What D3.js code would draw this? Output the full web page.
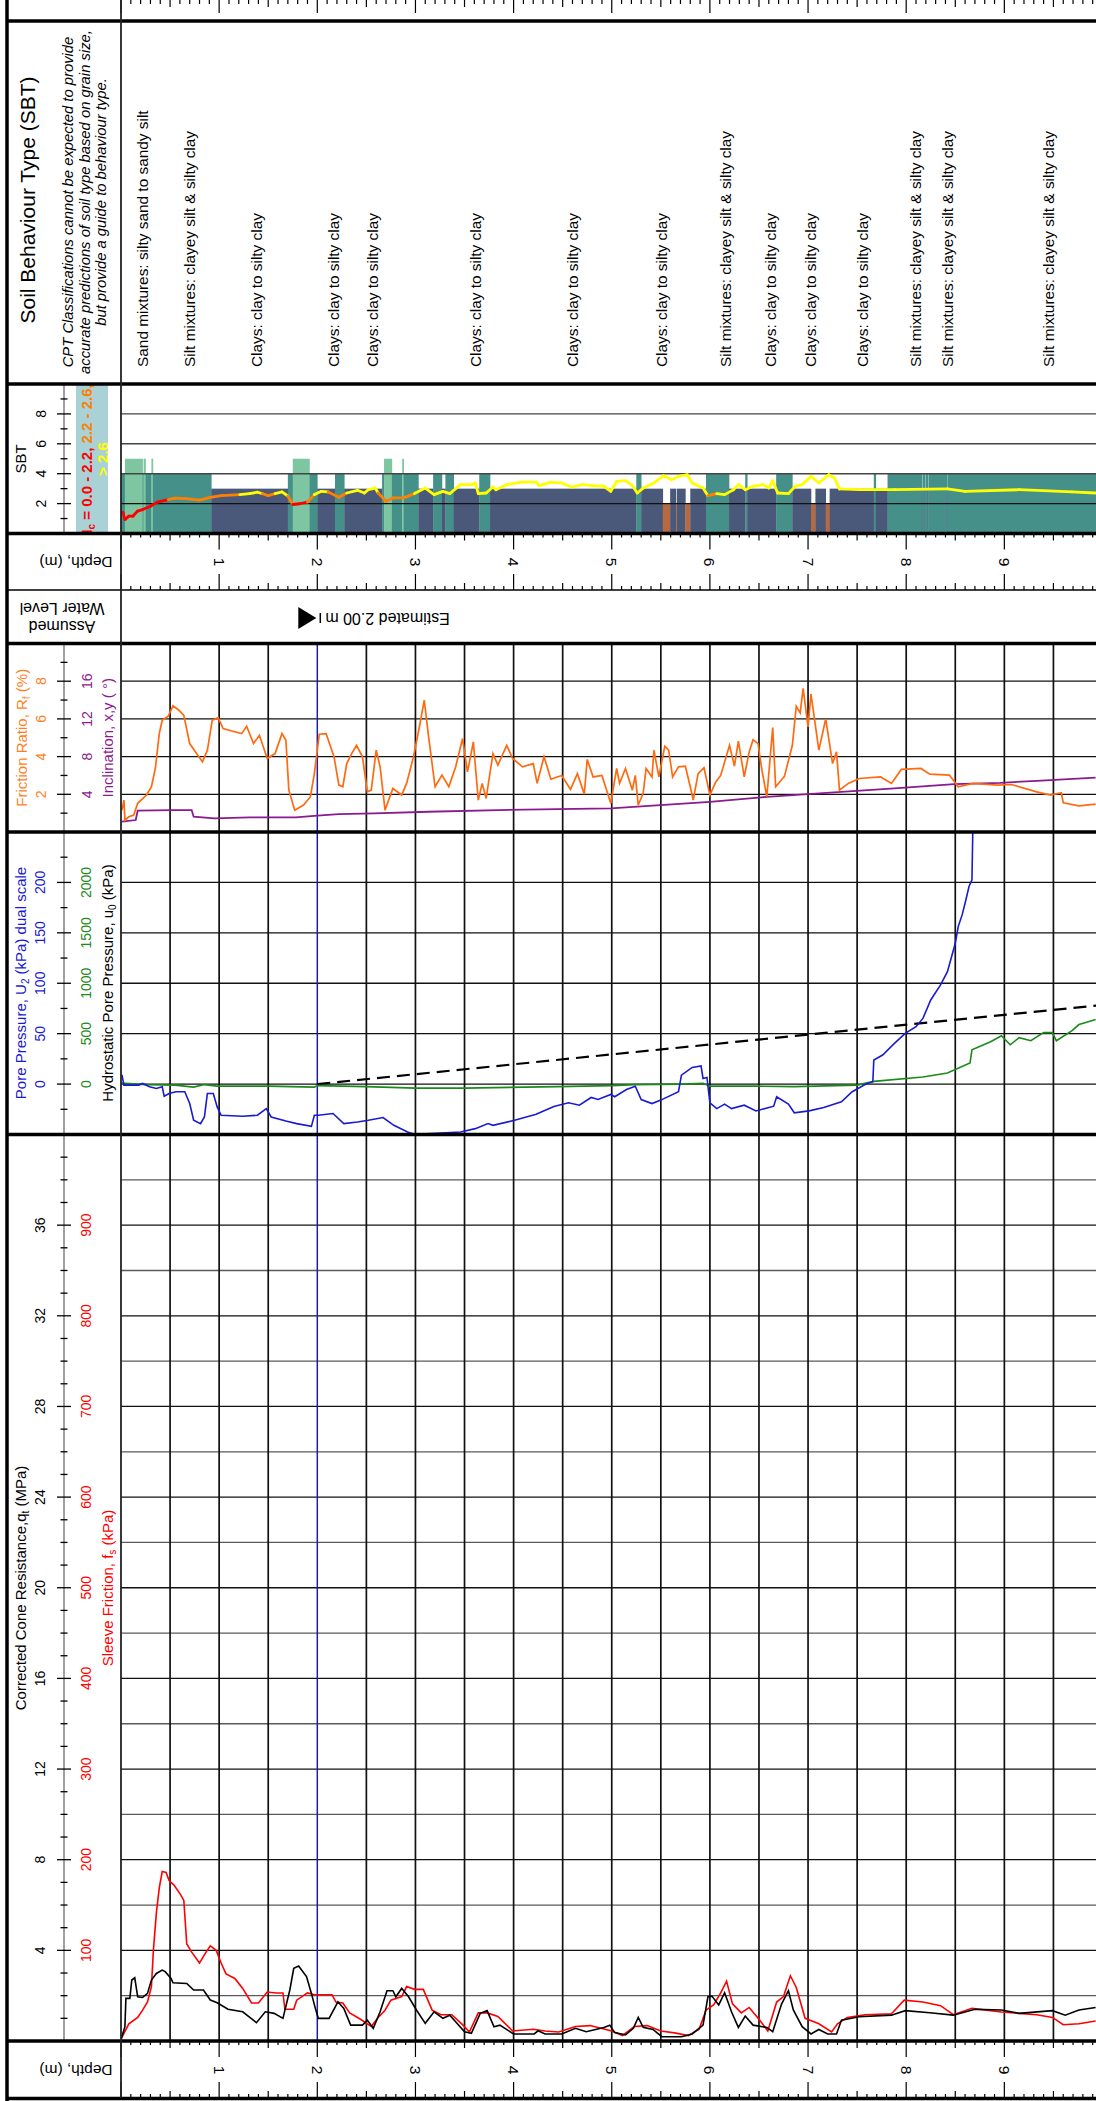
<!DOCTYPE html>
<html>
<head>
<meta charset="utf-8">
<script src="https://cdn.jsdelivr.net/npm/d3@7"></script>
<style>
body { margin: 0; background: #fff; }
svg text { font-family: "Liberation Sans", Arial, sans-serif; }
</style>
</head>
<body>
<div id="chart"></div>
<script>
// ---- data (depth in m, value) ----
var waterDepth = 2.0;

var soilLabels = [
  [0.22, "Sand mixtures: silty sand to sandy silt"],
  [0.70, "Silt mixtures: clayey silt & silty clay"],
  [1.38, "Clays: clay to silty clay"],
  [2.16, "Clays: clay to silty clay"],
  [2.56, "Clays: clay to silty clay"],
  [3.61, "Clays: clay to silty clay"],
  [4.60, "Clays: clay to silty clay"],
  [5.51, "Clays: clay to silty clay"],
  [6.16, "Silt mixtures: clayey silt & silty clay"],
  [6.62, "Clays: clay to silty clay"],
  [7.03, "Clays: clay to silty clay"],
  [7.55, "Clays: clay to silty clay"],
  [8.09, "Silt mixtures: clayey silt & silty clay"],
  [8.42, "Silt mixtures: clayey silt & silty clay"],
  [9.45, "Silt mixtures: clayey silt & silty clay"]
];

// [from, to, zone]
var sbtZones = [
  [0,0.04,4],[0.04,0.22,5],[0.22,0.23,4],[0.23,0.25,5],[0.25,0.31,4],[0.31,0.325,5],[0.325,0.92,4],
  [0.92,1.70,3],[1.70,1.75,4],[1.75,1.92,5],[1.92,2.0,4],[2.0,2.18,3],[2.18,2.275,4],[2.275,2.66,3],
  [2.66,2.68,4],[2.68,2.76,5],[2.76,2.865,4],[2.865,2.88,5],[2.88,3.03,4],[3.03,3.18,3],[3.18,3.27,4],
  [3.27,3.305,3],[3.305,3.39,4],[3.39,3.65,3],[3.65,3.76,4],[3.76,5.25,3],[5.25,5.30,4],[5.30,5.52,3],
  [5.52,5.595,2],[5.595,5.655,3],[5.655,5.665,2],[5.665,5.75,3],[5.75,5.80,2],[5.80,5.96,3],[5.96,6.195,4],
  [6.195,6.36,3],[6.36,6.38,4],[6.38,6.675,3],[6.675,6.84,4],[6.84,7.03,3],[7.03,7.075,2],[7.075,7.18,3],
  [7.18,7.22,2],[7.22,7.67,3],[7.67,7.69,4],[7.69,7.81,3],[7.81,8.16,4],[8.16,8.166,3],[8.166,8.19,4],
  [8.19,8.196,3],[8.196,8.22,4],[8.22,8.226,3],[8.226,8.42,4],[8.42,8.426,3],[8.426,10,4]
];

var icIndex = [
  [0,1.38],[0.02,1.41],[0.04,0.93],[0.08,1.16],[0.12,1.16],[0.17,1.5],[0.22,1.6],[0.30,1.82],[0.37,2.1],
  [0.48,2.27],[0.55,2.36],[0.66,2.33],[0.80,2.23],[0.91,2.42],[1.02,2.53],[1.21,2.6],[1.31,2.67],[1.39,2.76],
  [1.44,2.67],[1.50,2.53],[1.57,2.67],[1.64,2.78],[1.70,2.51],[1.75,1.94],[1.82,1.99],[1.90,2.1],[1.97,2.6],
  [2.04,2.82],[2.11,2.78],[2.22,2.42],[2.30,2.71],[2.41,2.89],[2.48,2.71],[2.52,2.93],[2.59,3.04],[2.62,2.71],
  [2.70,2.16],[2.77,2.38],[2.88,2.38],[2.99,2.67],[3.10,3.04],[3.19,2.6],[3.28,2.82],[3.35,2.67],[3.46,3.27],
  [3.57,3.27],[3.61,3.38],[3.64,2.67],[3.72,2.71],[3.79,3.11],[3.82,2.93],[3.93,3.27],[4.08,3.44],[4.23,3.44],
  [4.26,3.2],[4.37,3.42],[4.49,3.38],[4.59,3.11],[4.70,3.27],[4.81,3.2],[4.92,3.16],[4.99,2.82],[5.05,3.49],
  [5.14,3.53],[5.21,3.2],[5.26,2.71],[5.32,3.04],[5.43,3.38],[5.53,3.87],[5.61,3.6],[5.68,3.82],[5.77,3.93],
  [5.82,3.38],[5.93,3.04],[5.98,2.53],[6.07,2.67],[6.15,2.6],[6.24,2.93],[6.29,3.27],[6.36,2.93],[6.44,3.16],
  [6.54,3.27],[6.60,3.04],[6.64,3.53],[6.69,2.71],[6.80,2.67],[6.87,3.16],[6.94,3.27],[7.03,3.82],[7.11,3.38],
  [7.21,3.93],[7.27,3.71],[7.32,2.98],[7.52,2.93],[7.88,2.93],[8.42,2.98],[8.60,2.82],[9.15,2.93],[9.69,2.78],
  [9.93,2.71]
];

var frictionRatio = [
  [0.01,1.16],[0.03,1.69],[0.04,0.63],[0.08,0.81],[0.13,0.9],[0.17,1.52],[0.26,1.96],[0.31,2.4],[0.35,3.37],
  [0.39,5.22],[0.42,5.93],[0.48,6.14],[0.53,6.69],[0.59,6.46],[0.64,6.19],[0.70,4.69],[0.77,4.16],[0.83,3.72],
  [0.88,4.34],[0.93,5.93],[0.99,6.07],[1.04,5.49],[1.13,5.36],[1.23,5.22],[1.28,5.61],[1.35,4.69],[1.41,5.13],
  [1.49,3.9],[1.57,4.16],[1.64,5.22],[1.68,4.87],[1.71,2.22],[1.77,1.16],[1.86,1.43],[1.93,1.87],[1.97,3.1],
  [2.00,4.34],[2.02,5.19],[2.09,5.22],[2.17,3.99],[2.22,2.49],[2.26,2.4],[2.30,3.63],[2.35,4.16],[2.40,4.6],
  [2.46,3.99],[2.51,2.13],[2.55,2.22],[2.60,4.34],[2.64,3.46],[2.69,1.16],[2.77,2.31],[2.86,1.96],[2.91,2.58],
  [2.98,3.99],[3.04,5.57],[3.09,6.99],[3.13,5.22],[3.20,2.4],[3.27,3.02],[3.34,2.4],[3.41,3.46],[3.48,4.96],
  [3.53,3.19],[3.59,4.78],[3.64,1.69],[3.68,2.58],[3.72,1.78],[3.79,4.16],[3.84,3.55],[3.93,4.6],[3.99,3.9],
  [4.09,3.46],[4.20,3.63],[4.24,2.58],[4.31,4.0],[4.38,2.8],[4.49,3.0],[4.58,2.26],[4.65,3.10],[4.72,2.01],
  [4.75,3.85],[4.81,2.92],[4.90,3.0],[4.99,1.52],[5.05,3.37],[5.08,2.58],[5.14,3.37],[5.21,2.22],[5.24,3.0],
  [5.27,1.43],[5.32,2.05],[5.35,3.37],[5.41,2.92],[5.43,4.34],[5.48,2.92],[5.54,4.55],[5.58,4.34],[5.62,2.92],
  [5.68,3.46],[5.75,3.49],[5.80,2.4],[5.83,1.69],[5.88,3.1],[5.94,3.41],[6.00,1.96],[6.06,2.66],[6.11,3.0],
  [6.20,4.6],[6.25,3.49],[6.29,4.82],[6.35,2.92],[6.40,4.25],[6.44,4.9],[6.49,4.69],[6.53,3.28],[6.58,1.87],
  [6.64,5.54],[6.67,2.4],[6.76,2.96],[6.84,4.6],[6.88,6.67],[6.92,6.32],[6.95,7.62],[7.00,5.57],[7.03,7.32],
  [7.11,4.34],[7.18,6.0],[7.25,3.63],[7.29,4.25],[7.32,2.22],[7.41,2.58],[7.52,2.84],[7.74,2.92],[7.85,2.58],
  [7.95,3.32],[8.15,3.37],[8.24,3.07],[8.44,3.02],[8.53,2.4],[8.68,2.58],[8.93,2.49],[9.07,2.52],[9.33,2.13],
  [9.47,1.96],[9.58,2.08],[9.60,1.55],[9.76,1.39],[9.93,1.48]
];

var inclination = [
  [0.01,1.09],[0.15,1.27],[0.17,2.26],[0.52,2.33],[0.72,2.33],[0.74,1.62],[0.95,1.45],[1.31,1.55],[1.78,1.55],
  [2.00,1.73],[2.22,1.9],[2.58,1.97],[3.13,2.15],[3.85,2.33],[4.45,2.43],[4.99,2.5],[6.00,3.2],[6.58,3.73],
  [7.34,4.26],[7.88,4.62],[8.49,5.08],[8.96,5.22],[9.33,5.43],[9.93,5.78]
];

var porePressure = [
  [0.01,9.2],[0.03,-1],[0.18,-1],[0.22,0.6],[0.29,-2.7],[0.36,-4.4],[0.42,-2.7],[0.44,-12],[0.49,-9.3],
  [0.56,-7.6],[0.65,-7.6],[0.70,-19.3],[0.74,-35.9],[0.81,-39.2],[0.85,-32.6],[0.88,-9.3],[0.94,-9.3],
  [0.98,-22.6],[1.02,-30.9],[1.24,-31.9],[1.39,-30.9],[1.48,-24.3],[1.53,-32.6],[1.68,-36.6],[1.79,-39.2],
  [1.94,-41.9],[1.97,-30.9],[2.01,-30.9],[2.16,-29.2],[2.27,-39.2],[2.41,-37.6],[2.52,-35.9],[2.67,-33.2],
  [2.78,-40.9],[2.92,-47.5],[3.00,-49.9],[3.46,-47.5],[3.61,-44.2],[3.74,-39.2],[3.79,-40.9],[4.01,-35.9],
  [4.23,-29.9],[4.41,-22.2],[4.56,-18.6],[4.67,-20.9],[4.79,-13.3],[4.86,-15.3],[4.99,-10.3],[5.03,-12.6],
  [5.15,-5.4],[5.24,-2.1],[5.30,-15.3],[5.41,-19.3],[5.50,-15.9],[5.68,-7.6],[5.71,8.9],[5.82,16.5],
  [5.91,17.9],[5.93,5.6],[5.97,6.6],[6.00,-18.6],[6.07,-24.3],[6.15,-19.9],[6.22,-24.3],[6.35,-20.9],
  [6.47,-26.6],[6.65,-21.9],[6.68,-12.6],[6.80,-19.9],[6.86,-28.5],[7.01,-26.6],[7.16,-23.3],[7.34,-17.6],
  [7.45,-7.6],[7.59,0],[7.66,2.3],[7.67,23.8],[7.76,28.8],[7.88,40.3],[7.99,50.3],[8.10,56.9],[8.17,65.1],
  [8.25,83.4],[8.35,98.3],[8.42,111.5],[8.50,139.6],[8.53,156.2],[8.57,167.8],[8.60,179.4],[8.64,195.9],
  [8.67,202.5],[8.68,260]
];

var hydroPressure = [
  [0.0,10],[0.26,-5],[0.55,-10],[0.74,-30],[0.85,-5],[0.98,-20],[1.5,-20],[1.97,-30],[2.0,-15],[2.5,-25],
  [3.0,-40],[3.5,-40],[4.45,-25],[5.0,-15],[5.24,-5],[5.71,0],[5.93,7],[6.0,-20],[6.47,-20],[6.86,-25],
  [7.5,-10],[7.67,27],[8.17,70],[8.42,110],[8.65,210],[8.67,340],[8.86,420],[8.97,480],[9.06,390],[9.15,460],
  [9.27,430],[9.40,510],[9.49,510],[9.53,430],[9.69,530],[9.76,590],[9.83,610],[9.93,640]
];

var coneResistance = [
  [0.0,0.07],[0.04,0.63],[0.05,1.88],[0.09,1.88],[0.11,2.69],[0.14,2.79],[0.17,1.95],[0.22,1.92],[0.27,2.1],
  [0.31,2.69],[0.36,2.98],[0.42,3.13],[0.45,3.06],[0.51,2.76],[0.53,2.57],[0.67,2.54],[0.74,2.25],[0.84,2.25],
  [0.91,1.81],[0.98,1.69],[1.09,1.4],[1.24,1.29],[1.38,0.81],[1.47,1.29],[1.56,1.22],[1.65,1.0],[1.72,2.25],
  [1.76,3.21],[1.81,3.31],[1.89,2.84],[1.94,2.1],[1.98,1.44],[2.01,1.0],[2.12,1.0],[2.21,1.73],[2.27,1.44],
  [2.34,0.70],[2.46,0.70],[2.51,0.92],[2.57,0.56],[2.64,1.29],[2.71,2.22],[2.77,2.22],[2.80,1.95],[2.86,2.32],
  [2.93,1.95],[3.01,1.37],[3.10,0.78],[3.19,1.29],[3.28,1.0],[3.35,1.14],[3.50,0.41],[3.57,0.34],[3.66,1.22],
  [3.73,1.34],[3.80,0.63],[3.86,0.70],[4.00,0.31],[4.21,0.31],[4.25,0.45],[4.32,0.31],[4.49,0.31],[4.63,0.56],
  [4.74,0.41],[4.92,0.6],[4.98,0.70],[5.03,0.37],[5.14,0.27],[5.22,0.56],[5.27,1.04],[5.32,0.6],[5.42,0.51],
  [5.51,0.19],[5.71,0.19],[5.82,0.31],[5.93,0.7],[5.98,1.95],[6.02,1.98],[6.09,1.59],[6.15,2.13],[6.22,1.29],
  [6.29,0.6],[6.36,1.1],[6.44,0.7],[6.58,0.6],[6.64,0.41],[6.73,1.63],[6.80,2.22],[6.85,1.37],[6.94,0.63],
  [7.03,0.31],[7.11,0.51],[7.20,0.31],[7.29,0.31],[7.34,0.92],[7.52,1.07],[7.85,1.14],[7.99,1.34],[8.24,1.25],
  [8.48,1.14],[8.70,1.4],[8.97,1.37],[9.15,1.22],[9.49,1.34],[9.62,1.14],[9.76,1.37],[9.93,1.48]
];

var sleeveFriction = [
  [0.0,2],[0.08,19],[0.17,26],[0.22,34],[0.27,43],[0.31,60],[0.33,100],[0.36,141],[0.39,169],[0.42,187],
  [0.46,186],[0.49,177],[0.54,172],[0.61,161],[0.64,155],[0.67,107],[0.72,98],[0.80,86],[0.86,97],[0.91,105],
  [0.97,100],[1.02,86],[1.07,74],[1.16,69],[1.24,58],[1.33,42],[1.40,42],[1.49,54],[1.58,53],[1.65,53],
  [1.67,35],[1.76,35],[1.79,45],[1.90,53],[1.97,51],[2.15,51],[2.19,43],[2.26,42],[2.33,31],[2.44,24],
  [2.55,16],[2.62,26],[2.69,34],[2.75,45],[2.86,49],[2.91,60],[2.99,57],[3.08,57],[3.17,34],[3.26,29],
  [3.37,29],[3.48,18],[3.55,10],[3.64,31],[3.73,31],[3.84,27],[3.99,11],[4.20,13],[4.32,11],[4.46,10],
  [4.63,16],[4.78,17],[5.00,11],[5.11,6],[5.23,16],[5.36,17],[5.50,11],[5.64,9],[5.78,6],[5.89,13],[5.96,34],
  [6.04,40],[6.11,53],[6.17,66],[6.23,41],[6.32,31],[6.40,37],[6.50,24],[6.59,11],[6.68,43],[6.75,49],
  [6.82,72],[6.88,59],[6.97,25],[7.04,22],[7.11,19],[7.24,10],[7.30,19],[7.40,26],[7.58,29],[7.85,30],
  [7.98,45],[8.17,43],[8.35,39],[8.48,29],[8.67,36],[8.97,32],[9.33,29],[9.49,26],[9.60,18],[9.76,19],
  [9.93,22]
];

// tick labels
var sbtTicks = [2, 4, 6, 8];
var rfTicks = [2, 4, 6, 8];
var inclTicks = [4, 8, 12, 16];
var u2Ticks = [0, 50, 100, 150, 200];
var u0Ticks = [0, 500, 1000, 1500, 2000];
var qtTicks = [4, 8, 12, 16, 20, 24, 28, 32, 36];
var fsTicks = [100, 200, 300, 400, 500, 600, 700, 800, 900];
var depthLabels = [1, 2, 3, 4, 5, 6, 7, 8, 9];

var zoneColors = {2: "#b76a41", 3: "#4a5979", 4: "#45918a", 5: "#7dc6a1"};

// ---- layout ----
var W = 1096, H = 2101;
var svg = d3.select("#chart").append("svg").attr("width", W).attr("height", H);

var x = d3.scaleLinear().domain([0, 10]).range([121, 1102.5]);

var ySbt = d3.scaleLinear().domain([0, 10]).range([533.5, 384]);
var yRf = d3.scaleLinear().domain([0, 10]).range([832, 643.5]);
var yIncl = d3.scaleLinear().domain([0, 20]).range([832, 643.5]);
var yU2 = d3.scaleLinear().domain([-50, 250]).range([1134.5, 832]);
var yU0 = d3.scaleLinear().domain([-500, 2500]).range([1134.5, 832]);
var yQt = d3.scaleLinear().domain([0, 40]).range([2041, 1134.5]);
var yFs = d3.scaleLinear().domain([0, 1000]).range([2041, 1134.5]);

function hline(g, y, x1, x2, w, c) {
  return g.append("line").attr("x1", x1).attr("x2", x2).attr("y1", y).attr("y2", y)
    .attr("stroke", c || "#000").attr("stroke-width", w);
}
function vline(g, xx, y1, y2, w, c) {
  return g.append("line").attr("x1", xx).attr("x2", xx).attr("y1", y1).attr("y2", y2)
    .attr("stroke", c || "#000").attr("stroke-width", w);
}
function rtext(g, tx, ty, ang, size, color) {
  return g.append("text")
    .attr("transform", "translate(" + tx + "," + ty + ") rotate(" + ang + ")")
    .attr("font-size", size).attr("fill", color || "#000")
    .attr("text-anchor", "middle").attr("dominant-baseline", "central");
}
function clipFor(id, y1, y2) {
  svg.append("clipPath").attr("id", id).append("rect")
    .attr("x", 121).attr("y", y1).attr("width", W - 121).attr("height", y2 - y1);
  return "url(#" + id + ")";
}

// ---- header: soil behaviour type text ----
var head = svg.append("g");
rtext(head, 27, 200, -90, 21).text("Soil Behaviour Type (SBT)");
var note = ["CPT Classifications cannot be expected to provide",
            "accurate predictions of soil type based on grain size,",
            "but provide a guide to behaviour type."];
[68, 85, 101].forEach(function(xx, i) {
  rtext(head, xx, 202, -90, 14.8).attr("font-style", "italic").text(note[i]);
});
soilLabels.forEach(function(s) {
  rtext(head, x(s[0]), 367, -90, 15.4).attr("text-anchor", "start").text(s[1]);
});

// ---- SBT strip ----
var sbtG = svg.append("g").attr("clip-path", clipFor("cSbt", 384, 533.5));
sbtG.selectAll("rect.zone").data(sbtZones).enter().append("rect")
  .attr("x", function(d) { return x(d[0]); })
  .attr("width", function(d) { return x(d[1]) - x(d[0]) + 0.3; })
  .attr("y", function(d) { return ySbt(d[2]); })
  .attr("height", function(d) { return ySbt(0) - ySbt(d[2]); })
  .attr("fill", function(d) { return zoneColors[d[2]]; });
[2, 4, 6, 8].forEach(function(v) {
  hline(sbtG, ySbt(v), 121, W, 1.4, v === 2 ? "#111" : "#444");
});
d3.pairs(icIndex).forEach(function(p) {
  var m = (p[0][1] + p[1][1]) / 2;
  var c = m < 2.2 ? "#ff0000" : (m < 2.6 ? "#ff8000" : "#ffff00");
  sbtG.append("line")
    .attr("x1", x(p[0][0])).attr("y1", ySbt(p[0][1]))
    .attr("x2", x(p[1][0])).attr("y2", ySbt(p[1][1]))
    .attr("stroke", c).attr("stroke-width", 2.8).attr("stroke-linecap", "round");
});

// Ic legend box
var leg = svg.append("g");
leg.append("rect").attr("x", 76).attr("y", 384).attr("width", 32).attr("height", 149.5).attr("fill", "#a9d1d6");
var l1 = rtext(leg, 86, 459, -90, 15).attr("font-weight", "bold");
l1.append("tspan").attr("fill", "#ff0000").text("I");
l1.append("tspan").attr("fill", "#ff0000").attr("font-size", 10).attr("baseline-shift", "sub").text("c");
l1.append("tspan").attr("fill", "#ff0000").text(" = 0.0 - 2.2, ");
l1.append("tspan").attr("fill", "#ff8000").text("2.2 - 2.6,");
rtext(leg, 102, 459, -90, 15).attr("font-weight", "bold").attr("fill", "#ffff00").text("> 2.6");

// ---- grids for data panels ----
function grid(top, bottom, ys, vals, colorFn) {
  var g = svg.append("g");
  vals.forEach(function(v) { hline(g, ys(v), 121, W, 1.3, colorFn ? colorFn(v) : "#111"); });
  d3.range(0.5, 10.01, 0.5).forEach(function(d) {
    if (d !== waterDepth) vline(g, x(d), top, bottom, 1.7, "#111");
  });
  vline(g, x(waterDepth), top, bottom, 1.5, "#1f1fa6");
  return g;
}
grid(643.5, 832, yRf, rfTicks);
grid(832, 1134.5, yU2, u2Ticks);
grid(1134.5, 2041, yQt, d3.range(2, 40, 2), function(v) { return v % 4 === 0 ? "#111" : "#5a5a5a"; });

function lineOf(ys) {
  return d3.line().x(function(d) { return x(d[0]); }).y(function(d) { return ys(d[1]); });
}

// friction ratio panel
var fr = svg.append("g").attr("clip-path", clipFor("cFr", 643.5, 832));
fr.append("path").datum(inclination).attr("d", lineOf(yIncl))
  .attr("fill", "none").attr("stroke", "#8a1a8e").attr("stroke-width", 1.8);
fr.append("path").datum(frictionRatio).attr("d", lineOf(yRf))
  .attr("fill", "none").attr("stroke", "#ff6a10").attr("stroke-width", 1.7);

// pore pressure panel
var pp = svg.append("g").attr("clip-path", clipFor("cPp", 832, 1134.5));
var hydroLine = [[waterDepth, 0], [10, 9.81 * (10 - waterDepth)]];
pp.append("path").datum(hydroLine).attr("d", lineOf(yU2))
  .attr("fill", "none").attr("stroke", "#000").attr("stroke-width", 2.2).attr("stroke-dasharray", "13,7");
pp.append("path").datum(hydroPressure).attr("d", lineOf(yU0))
  .attr("fill", "none").attr("stroke", "#1a8a1a").attr("stroke-width", 1.6);
pp.append("path").datum(porePressure).attr("d", lineOf(yU2))
  .attr("fill", "none").attr("stroke", "#1a1ad0").attr("stroke-width", 1.6);

// cone panel
var cp = svg.append("g").attr("clip-path", clipFor("cCp", 1134.5, 2041));
cp.append("path").datum(sleeveFriction).attr("d", lineOf(yFs))
  .attr("fill", "none").attr("stroke", "#ff0000").attr("stroke-width", 1.6);
cp.append("path").datum(coneResistance).attr("d", lineOf(yQt))
  .attr("fill", "none").attr("stroke", "#000").attr("stroke-width", 1.6);

// ---- left column axes ----
var axG = svg.append("g");
function leftAxis(top, bottom, ys, step, majors) {
  vline(axG, 64, top, bottom, 1.5, "#808080");
  d3.range(ys.domain()[0] + step, ys.domain()[1], step).forEach(function(v) {
    var major = majors.indexOf(v) >= 0;
    var hw = major ? 7 : 3.5;
    hline(axG, ys(v), 64 - hw, 64 + hw, 1.3, "#000");
  });
}
leftAxis(384, 533.5, ySbt, 1, sbtTicks);
leftAxis(643.5, 832, yRf, 1, rfTicks);
leftAxis(832, 1134.5, yU2, 25, u2Ticks);
leftAxis(1134.5, 2041, yQt, 1, qtTicks);

rtext(axG, 20, 459, -90, 15).text("SBT");
sbtTicks.forEach(function(v) { rtext(axG, 41, ySbt(v), -90, 14).text(v); });

var t1 = rtext(axG, 21, 737.75, -90, 15, "#ff7f1e");
t1.append("tspan").text("Friction Ratio, R");
t1.append("tspan").attr("font-size", 10).attr("baseline-shift", "sub").text("f");
t1.append("tspan").text(" (%)");
rfTicks.forEach(function(v) { rtext(axG, 41, yRf(v), -90, 14, "#ff7f1e").text(v); });
inclTicks.forEach(function(v) { rtext(axG, 87, yIncl(v), -90, 14, "#8a1a8e").text(v); });
rtext(axG, 107, 737.75, -90, 15, "#8a1a8e").text("Inclination, x,y ( \u00b0)");

var t2 = rtext(axG, 20, 983, -90, 15, "#1a1ad0");
t2.append("tspan").text("Pore Pressure, U");
t2.append("tspan").attr("font-size", 10).attr("baseline-shift", "sub").text("2");
t2.append("tspan").text(" (kPa) dual scale");
u2Ticks.forEach(function(v) { rtext(axG, 40, yU2(v), -90, 14, "#1a1ad0").text(v); });
u0Ticks.forEach(function(v) { rtext(axG, 86, yU0(v), -90, 14, "#1a8a1a").text(v); });
var t3 = rtext(axG, 107, 983, -90, 15, "#000");
t3.append("tspan").text("Hydrostatic Pore Pressure, u");
t3.append("tspan").attr("font-size", 10).attr("baseline-shift", "sub").text("0");
t3.append("tspan").text(" (kPa)");

var t4 = rtext(axG, 20, 1588, -90, 15, "#000");
t4.append("tspan").text("Corrected Cone Resistance,q");
t4.append("tspan").attr("font-size", 10).attr("baseline-shift", "sub").text("t");
t4.append("tspan").text(" (MPa)");
qtTicks.forEach(function(v) { rtext(axG, 40, yQt(v), -90, 14).text(v); });
fsTicks.forEach(function(v) { rtext(axG, 86, yFs(v), -90, 14, "#ff0000").text(v); });
var t5 = rtext(axG, 107, 1588, -90, 15, "#ff0000");
t5.append("tspan").text("Sleeve Friction, f");
t5.append("tspan").attr("font-size", 10).attr("baseline-shift", "sub").text("s");
t5.append("tspan").text(" (kPa)");

// ---- depth rulers ----
var dG = svg.append("g");
var tenths = d3.range(0, 101).map(function(i) { return i / 10; });
function tickLen(d, big) {
  var i = Math.round(d * 10);
  if (i % 10 === 0) return big;
  if (i % 5 === 0) return 7;
  return 4;
}
function ruler(y1, y2, labelY) {
  tenths.forEach(function(d) {
    if (x(d) > W) return;
    if (y1 !== null) vline(dG, x(d), y1, y1 + tickLen(d, 16), 1.2, "#000");
    if (y2 !== null) vline(dG, x(d), y2 - tickLen(d, 16), y2, 1.2, "#000");
  });
  if (labelY) {
    depthLabels.forEach(function(d) { rtext(dG, x(d), labelY, 90, 15.5).text(d); });
    rtext(dG, 76, labelY, 180, 15.5).text("Depth, (m)");
  }
}
// top ruler ticks hang from the page top
tenths.forEach(function(d) {
  if (x(d) <= W) vline(dG, x(d), 0, tickLen(d, 13), 1.2, "#000");
});
ruler(533.5, 590, 562);
ruler(2041, 2098, 2070);

// ---- water level ----
var wl = svg.append("g");
rtext(wl, 62, 608, 180, 16).text("Water Level");
rtext(wl, 62, 626, 180, 16).text("Assumed");
var wx = x(waterDepth);
wl.append("path").attr("d", d3.line()([[wx - 19, 607], [wx - 19, 629], [wx - 1, 618]])).attr("fill", "#000");
vline(wl, wx + 3, 613, 623, 1.5, "#000");
rtext(wl, wx + 8, 618, 180, 16).attr("text-anchor", "end").text("Estimated 2.00 m");

// ---- frame ----
var fG = svg.append("g");
[21, 384, 533.5, 643.5, 832, 1134.5, 2041, 2098.5].forEach(function(y) { hline(fG, y, 7, W, 3.5, "#000"); });
hline(fG, 590, 7, W, 1.6, "#000");
vline(fG, 121, 0, 2098, 1.8, "#222");
vline(fG, 7, 0, H, 3.5, "#000");
</script>
</body>
</html>
